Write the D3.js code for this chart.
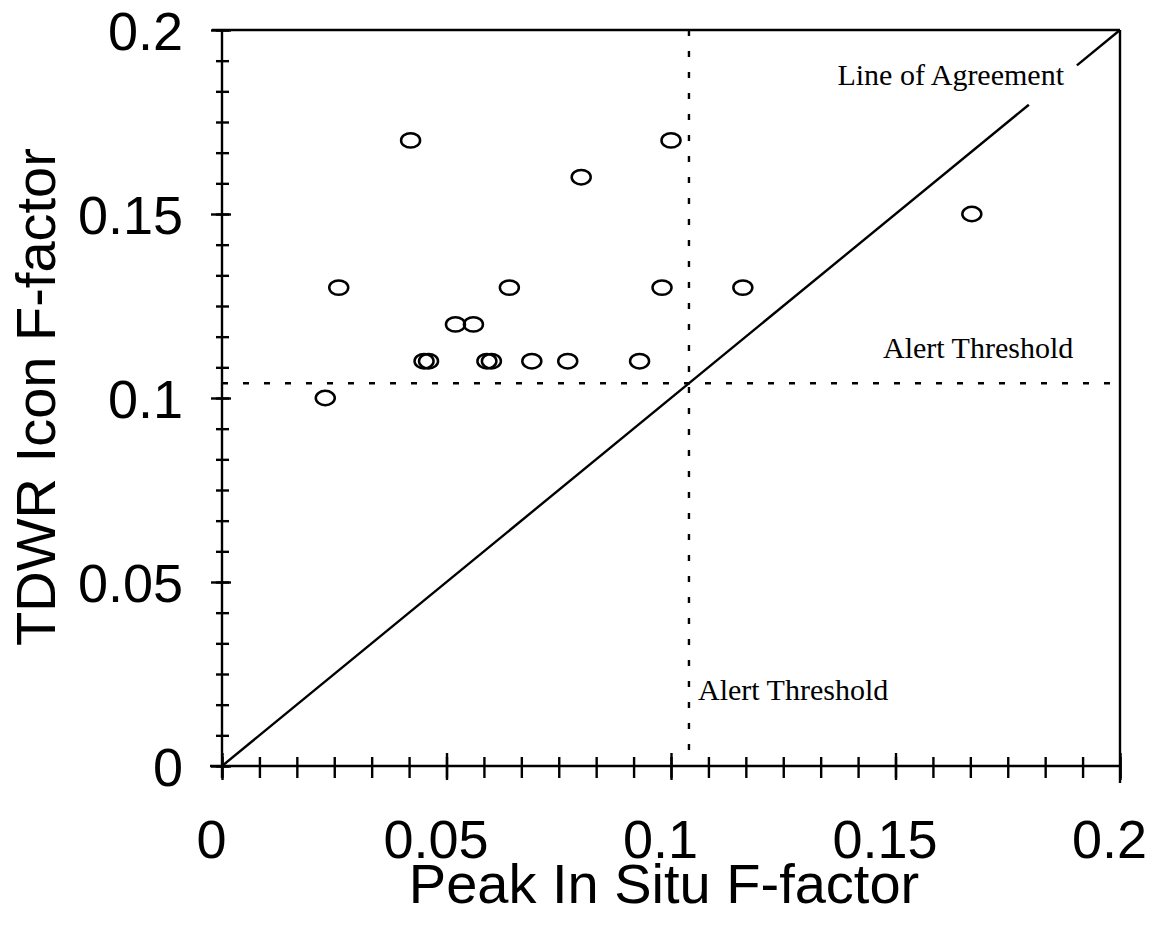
<!DOCTYPE html>
<html>
<head>
<meta charset="utf-8">
<script src="https://cdn.jsdelivr.net/npm/d3@7"></script>
<style>
  body { margin: 0; background: #fff; }
  svg { display: block; }
</style>
</head>
<body>
<svg width="1157" height="934"></svg>
<script>
// Peak in situ F-factor (x) vs TDWR icon F-factor (y)
var peakInSitu = [0.042, 0.100, 0.080, 0.026, 0.064, 0.098, 0.052, 0.056, 0.045, 0.046,
                  0.059, 0.060, 0.069, 0.077, 0.093, 0.023, 0.116, 0.167];
var tdwrIcon   = [0.170, 0.170, 0.160, 0.130, 0.130, 0.130, 0.120, 0.120, 0.110, 0.110,
                  0.110, 0.110, 0.110, 0.110, 0.110, 0.100, 0.130, 0.150];
var majorTicks = [0, 0.05, 0.1, 0.15, 0.2];
var tickLabels = ["0", "0.05", "0.1", "0.15", "0.2"];
var alertThreshold = 0.104;
var agreementGap = [0.1797, 0.1904];

var svg = d3.select("svg"),
    margin = {top: 30, right: 37, bottom: 168, left: 222},
    width = +svg.attr("width") - margin.left - margin.right,
    height = +svg.attr("height") - margin.top - margin.bottom;

var g = svg.append("g").attr("transform", "translate(" + margin.left + "," + margin.top + ")");

var x = d3.scaleLinear().domain([0, 0.2]).range([0, width]);
var y = d3.scaleLinear().domain([0, 0.2]).range([height, 0]);

var minorTicks = d3.range(0, 25).map(function(i) { return i * 0.2 / 24; });
var lw = 2.4;

// frame
g.append("line").attr("x1", -10).attr("x2", width).attr("y1", 0).attr("y2", 0)
  .attr("stroke", "#000").attr("stroke-width", lw);
g.append("line").attr("x1", width).attr("x2", width).attr("y1", 0).attr("y2", height + 17)
  .attr("stroke", "#000").attr("stroke-width", lw);
g.append("line").attr("x1", -12).attr("x2", width).attr("y1", height).attr("y2", height)
  .attr("stroke", "#000").attr("stroke-width", lw);
g.append("line").attr("x1", 0).attr("x2", 0).attr("y1", 0).attr("y2", height + 12)
  .attr("stroke", "#000").attr("stroke-width", lw);

// x axis ticks
var xMinor = g.append("g").attr("transform", "translate(0," + height + ")")
  .call(d3.axisBottom(x).tickValues(minorTicks).tickSize(12).tickFormat(""));
xMinor.select(".domain").remove();
xMinor.selectAll("line").attr("y1", -9).attr("stroke-width", lw);

var xMajor = g.append("g").attr("transform", "translate(0," + height + ")")
  .call(d3.axisBottom(x).tickValues(majorTicks).tickSize(14)
    .tickFormat(function(d, i) { return tickLabels[i]; }));
xMajor.select(".domain").remove();
xMajor.selectAll("line").attr("y1", -13).attr("stroke-width", lw);
xMajor.selectAll("text")
  .attr("y", 92).attr("dy", null).attr("dx", -11)
  .attr("fill", "#000")
  .style("font-family", "'Liberation Sans', Arial, sans-serif")
  .style("font-size", "54px");

// y axis ticks
var yMinor = g.append("g")
  .call(d3.axisLeft(y).tickValues(minorTicks).tickSize(6).tickFormat(""));
yMinor.select(".domain").remove();
yMinor.selectAll("line").attr("x2", 7).attr("x1", -6).attr("stroke-width", lw);

var yMajor = g.append("g")
  .call(d3.axisLeft(y).tickValues(majorTicks).tickSize(10)
    .tickFormat(function(d, i) { return tickLabels[i]; }));
yMajor.select(".domain").remove();
yMajor.selectAll("line").attr("x1", 9).attr("x2", -11).attr("stroke-width", lw);
yMajor.selectAll("text")
  .attr("x", -39).attr("dy", "0.36em")
  .attr("fill", "#000")
  .style("font-family", "'Liberation Sans', Arial, sans-serif")
  .style("font-size", "54px");

// alert thresholds (dashed)
g.append("line")
  .attr("x1", x(0)).attr("x2", x(0.2))
  .attr("y1", y(alertThreshold)).attr("y2", y(alertThreshold))
  .attr("stroke", "#000").attr("stroke-width", lw).attr("stroke-dasharray", "6,15");
g.append("line")
  .attr("x1", x(alertThreshold)).attr("x2", x(alertThreshold))
  .attr("y1", y(0.2)).attr("y2", y(0))
  .attr("stroke", "#000").attr("stroke-width", lw).attr("stroke-dasharray", "6,15");

// line of agreement, broken around its label
var agreeSegs = [[0, agreementGap[0]], [agreementGap[1], 0.2]];
g.selectAll(".agree").data(agreeSegs).enter().append("line")
  .attr("class", "agree")
  .attr("x1", function(d) { return x(d[0]); })
  .attr("y1", function(d) { return y(d[0]); })
  .attr("x2", function(d) { return x(d[1]); })
  .attr("y2", function(d) { return y(d[1]); })
  .attr("stroke", "#000").attr("stroke-width", lw);

// points
var pts = peakInSitu.map(function(v, i) { return {x: v, y: tdwrIcon[i]}; });
g.selectAll(".pt").data(pts).enter().append("ellipse")
  .attr("class", "pt")
  .attr("cx", function(d) { return x(d.x); })
  .attr("cy", function(d) { return y(d.y); })
  .attr("rx", 9.5).attr("ry", 7.2)
  .attr("fill", "none").attr("stroke", "#000").attr("stroke-width", 2.5);

// annotations
var serif = "'Liberation Serif', 'Times New Roman', serif";
svg.append("text").attr("x", 1064).attr("y", 85).attr("text-anchor", "end")
  .style("font-family", serif).style("font-size", "30px").text("Line of Agreement");
svg.append("text").attr("x", 883).attr("y", 358)
  .style("font-family", serif).style("font-size", "30px").text("Alert Threshold");
svg.append("text").attr("x", 698).attr("y", 700)
  .style("font-family", serif).style("font-size", "30px").text("Alert Threshold");

// axis titles
var sans = "'Liberation Sans', Arial, sans-serif";
svg.append("text").attr("x", 664).attr("y", 903).attr("text-anchor", "middle")
  .style("font-family", sans).style("font-size", "56px").text("Peak In Situ F-factor");
svg.append("text")
  .attr("transform", "translate(55,397) rotate(-90)")
  .attr("text-anchor", "middle")
  .style("font-family", sans).style("font-size", "56px").text("TDWR Icon F-factor");
</script>
</body>
</html>
